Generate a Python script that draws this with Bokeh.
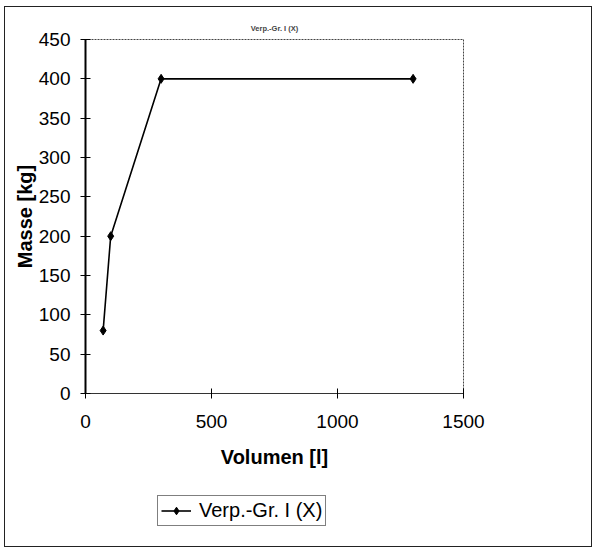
from bokeh.plotting import figure
from bokeh.layouts import column
from bokeh.models import Range1d, FixedTicker, Legend, LegendItem
from bokeh.embed import file_html
from bokeh.resources import INLINE

volumen = [70, 100, 300, 1300]
masse = [80, 200, 400, 400]
x_ticks = [0, 500, 1000, 1500]
y_ticks = [0, 50, 100, 150, 200, 250, 300, 350, 400, 450]
series_name = "Verp.-Gr. I (X)"

FONT = "Liberation Sans"

p = figure(width=586, height=470, output_backend="svg", toolbar_location=None,
           x_range=Range1d(0, 1500), y_range=Range1d(0, 450),
           min_border_left=80, min_border_right=128, min_border_top=32, min_border_bottom=84)

p.title.text = series_name
p.title.align = "center"
p.title.text_font = FONT
p.title.text_font_size = "7.5px"
p.title.text_font_style = "bold"
p.title.standoff = 14

p.xgrid.visible = False
p.ygrid.visible = False
p.outline_line_color = "#444"
p.outline_line_dash = "2 1"
p.outline_line_width = 1

for ax in (p.xaxis[0], p.yaxis[0]):
    ax.major_label_text_font = FONT
    ax.major_label_text_font_size = "19px"
    ax.major_label_text_color = "black"
    ax.axis_label_text_font = FONT
    ax.axis_label_text_font_size = "20px"
    ax.axis_label_text_font_style = "bold"
    ax.axis_label_text_color = "black"
    ax.major_tick_in = 5
    ax.major_tick_out = 5
    ax.major_tick_line_color = "black"
    ax.minor_tick_line_color = None

p.xaxis.ticker = FixedTicker(ticks=x_ticks)
p.yaxis.ticker = FixedTicker(ticks=y_ticks)
p.xaxis.axis_label = "Volumen [l]"
p.yaxis.axis_label = "Masse [kg]"
p.xaxis.major_label_standoff = 16
p.xaxis.axis_label_standoff = 15
p.yaxis.major_label_standoff = 10
p.yaxis.axis_label_standoff = 0
p.yaxis.axis_line_color = "black"
p.yaxis.axis_line_width = 2
p.xaxis.axis_line_color = "#333"
p.xaxis.axis_line_width = 1.2

p.line(volumen, masse, line_color="black", line_width=1.6)
p.scatter(volumen, masse, marker="diamond", size=9, color="black")

# legend panel below the chart (its glyphs fall outside its tiny ranges)
lg = figure(width=586, height=69, output_backend="svg", toolbar_location=None,
            x_range=Range1d(-2, -1), y_range=Range1d(-2, -1),
            x_axis_location=None, y_axis_location=None,
            min_border_left=0, min_border_right=0, min_border_top=0, min_border_bottom=0)
lg.xgrid.visible = False
lg.ygrid.visible = False
lg.outline_line_color = None
l_ln = lg.line(volumen, masse, line_color="black", line_width=1.6)
l_sc = lg.scatter(volumen, masse, marker="diamond", size=9, color="black")

legend = Legend(items=[LegendItem(label=series_name, renderers=[l_ln, l_sc])],
                location=(72, 20))
legend.label_text_font = FONT
legend.label_text_font_size = "20px"
legend.label_text_color = "black"
legend.border_line_color = "black"
legend.border_line_width = 1
legend.padding = 3
legend.margin = 0
legend.glyph_width = 30
legend.glyph_height = 19
legend.label_height = 19
legend.label_standoff = 8
legend.background_fill_alpha = 1
lg.add_layout(legend, "center")

layout = column(p, lg, spacing=0,
                styles={"margin-left": "4px", "margin-top": "6px", "border": "1px solid #222"})

open("out.html", "w").write(file_html(layout, INLINE))
